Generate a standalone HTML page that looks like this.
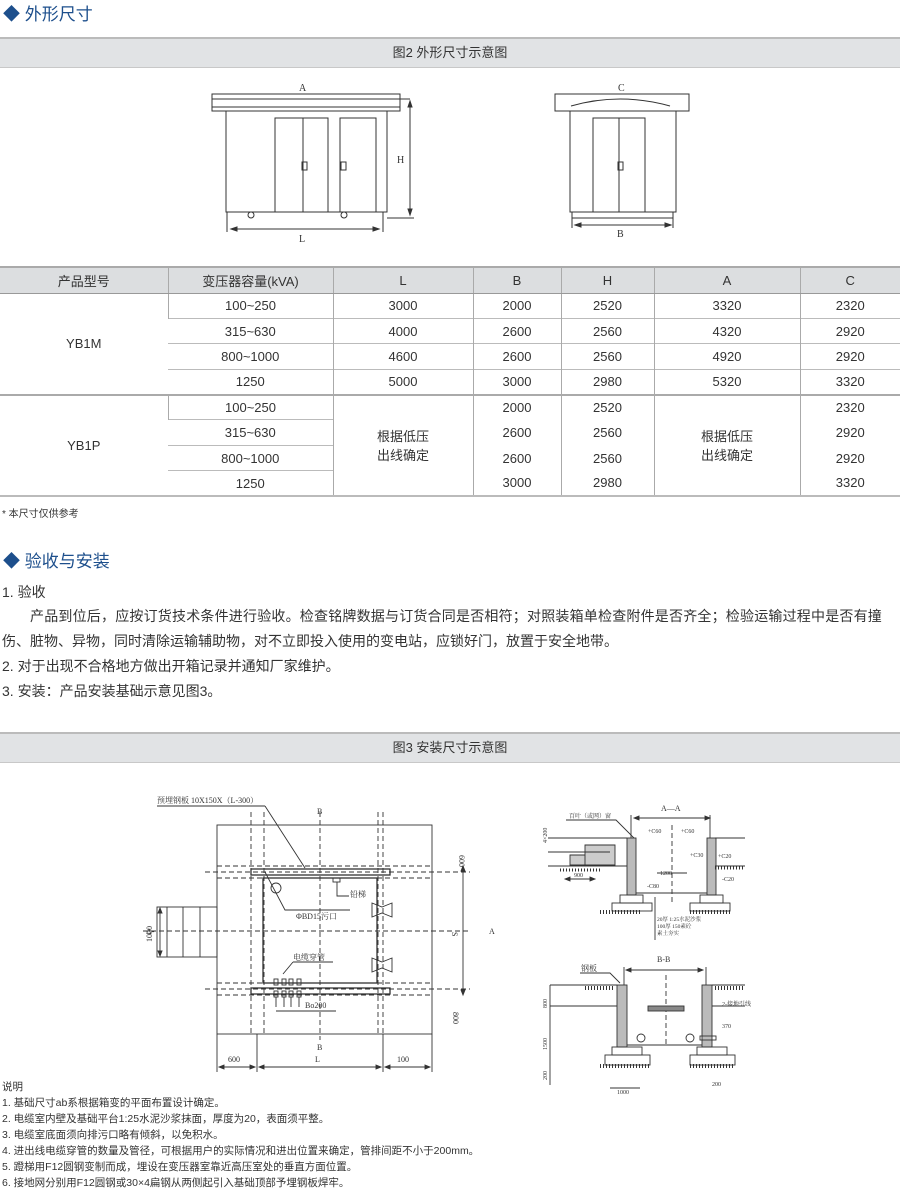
<!DOCTYPE html>
<html><head><meta charset="utf-8"><style>
*{margin:0;padding:0;box-sizing:border-box}
body{width:900px;height:1188px;background:#fff;position:relative;overflow:hidden;font-family:"Liberation Sans","Noto Sans CJK SC",sans-serif;color:#333}
.a{position:absolute;white-space:nowrap}
.h{color:#1d4f8c;font-size:17px}
.bar{position:absolute;left:0;width:900px;height:31px;background:#e1e3e5;border-top:2px solid #bbb;border-bottom:1px solid #c8c8c8;text-align:center;font-size:13px;line-height:28px;color:#333}
table{position:absolute;left:0;top:266px;width:900px;border-collapse:collapse;font-size:13px;color:#333}
td{text-align:center;height:25.4px;padding:0;border-left:1px solid #aaa;border-top:1px solid #bbb}
td:first-child{border-left:none}
tr.hd td{background:#dcdee0;height:26px;border-top:2px solid #aaa;border-bottom:1px solid #999}
.nb td{border-top:none}
.p{font-size:14px;color:#333}
.n{font-size:10.5px;color:#333}
</style></head><body>
<div class="a h" style="left:3px;top:0px">◆ 外形尺寸</div>
<div class="bar" style="top:37px">图2 外形尺寸示意图</div>

<svg class="a" style="left:0;top:70px" width="900" height="190" viewBox="0 70 900 190" fill="none" stroke="#333" stroke-width="1" font-family="Liberation Serif" font-size="10">
<rect x="212" y="94" width="188" height="17"/><line x1="212" y1="99" x2="410" y2="99"/><line x1="212" y1="107" x2="400" y2="107"/>
<rect x="226" y="111" width="161" height="101"/>
<rect x="275" y="118" width="53" height="94"/><line x1="303" y1="118" x2="303" y2="212"/>
<rect x="340" y="118" width="36" height="94"/>
<rect x="302" y="162" width="5" height="8"/><rect x="341" y="162" width="5" height="8"/>
<circle cx="251" cy="215" r="3"/><circle cx="344" cy="215" r="3"/>
<line x1="227" y1="212" x2="227" y2="232"/><line x1="383" y1="212" x2="383" y2="232"/><line x1="387" y1="218" x2="414" y2="218"/>
<line x1="231" y1="229" x2="379" y2="229"/><path d="M231 229l6-2v4zM379 229l-6-2v4z" fill="#333"/>
<line x1="410" y1="103" x2="410" y2="214"/><path d="M410 101l-2 6h4zM410 215l-2-6h4z" fill="#333"/>
<text x="299" y="91" fill="#333" stroke="none">A</text><text x="397" y="163" fill="#333" stroke="none">H</text><text x="299" y="242" fill="#333" stroke="none">L</text>
<rect x="555" y="94" width="134" height="17"/><path d="M571 106Q620 92 670 106"/>
<rect x="570" y="111" width="106" height="101"/>
<rect x="593" y="118" width="52" height="94"/><line x1="619" y1="118" x2="619" y2="212"/>
<rect x="618" y="162" width="5" height="8"/>
<line x1="572" y1="212" x2="572" y2="228"/><line x1="673" y1="212" x2="673" y2="228"/><line x1="572" y1="218" x2="673" y2="218"/>
<line x1="575" y1="225" x2="671" y2="225"/><path d="M575 225l6-2v4zM671 225l-6-2v4z" fill="#333"/>
<text x="618" y="91" fill="#333" stroke="none">C</text><text x="617" y="237" fill="#333" stroke="none">B</text>
</svg>

<table>
<colgroup><col style="width:168px"><col style="width:165px"><col style="width:140px"><col style="width:88px"><col style="width:93px"><col style="width:146px"><col style="width:100px"></colgroup>
<tr class="hd"><td>产品型号</td><td>变压器容量(kVA)</td><td>L</td><td>B</td><td>H</td><td>A</td><td>C</td></tr>
<tr><td rowspan="4">YB1M</td><td>100~250</td><td>3000</td><td>2000</td><td>2520</td><td>3320</td><td>2320</td></tr>
<tr><td>315~630</td><td>4000</td><td>2600</td><td>2560</td><td>4320</td><td>2920</td></tr>
<tr><td>800~1000</td><td>4600</td><td>2600</td><td>2560</td><td>4920</td><td>2920</td></tr>
<tr><td>1250</td><td>5000</td><td>3000</td><td>2980</td><td>5320</td><td>3320</td></tr>
<tr style="border-top:2px solid #aaa"><td rowspan="4">YB1P</td><td>100~250</td><td rowspan="4">根据低压<br>出线确定</td><td>2000</td><td>2520</td><td rowspan="4">根据低压<br>出线确定</td><td>2320</td></tr>
<tr class="nb"><td style="border-top:1px solid #bbb">315~630</td><td>2600</td><td>2560</td><td>2920</td></tr>
<tr class="nb"><td style="border-top:1px solid #bbb">800~1000</td><td>2600</td><td>2560</td><td>2920</td></tr>
<tr class="nb" style="border-bottom:2px solid #bbb"><td style="border-top:1px solid #bbb">1250</td><td>3000</td><td>2980</td><td>3320</td></tr>
</table>

<div class="a n" style="left:2px;top:505px;font-size:10px">* 本尺寸仅供参考</div>
<div class="a h" style="left:3px;top:547px">◆ 验收与安装</div>
<div class="a p" style="left:2px;top:582px">1. 验收</div>
<div class="a p" style="left:30px;top:606px;letter-spacing:0.2px">产品到位后，应按订货技术条件进行验收。检查铭牌数据与订货合同是否相符；对照装箱单检查附件是否齐全；检验运输过程中是否有撞</div>
<div class="a p" style="left:2px;top:631px">伤、脏物、异物，同时清除运输辅助物，对不立即投入使用的变电站，应锁好门，放置于安全地带。</div>
<div class="a p" style="left:2px;top:656px">2. 对于出现不合格地方做出开箱记录并通知厂家维护。</div>
<div class="a p" style="left:2px;top:681px">3. 安装：产品安装基础示意见图3。</div>

<div class="bar" style="top:732px">图3 安装尺寸示意图</div>

<svg class="a" style="left:0;top:780px" width="900" height="320" viewBox="0 780 900 320" fill="none" stroke="#333" stroke-width="0.9" font-family="Liberation Serif,Noto Serif CJK SC,serif" font-size="8">
<text x="157" y="803" fill="#333" stroke="none" font-size="8">预埋钢板 10X150X（L-300）</text>
<line x1="157" y1="806" x2="265" y2="806"/><line x1="265" y1="806" x2="305" y2="868"/>
<rect x="217" y="825" width="215" height="209"/>
<rect x="157" y="907" width="60" height="50"/><line x1="167" y1="907" x2="167" y2="957"/><line x1="183" y1="907" x2="183" y2="957"/><line x1="200" y1="907" x2="200" y2="957"/>
<g stroke-dasharray="5,3">
<line x1="251" y1="812" x2="251" y2="1034"/><line x1="264" y1="812" x2="264" y2="1034"/><line x1="320" y1="812" x2="320" y2="1040"/><line x1="378" y1="812" x2="378" y2="1034"/><line x1="383" y1="812" x2="383" y2="1034"/>
<line x1="217" y1="866" x2="432" y2="866"/><line x1="205" y1="872" x2="470" y2="872"/><line x1="217" y1="878" x2="432" y2="878"/>
<line x1="217" y1="983" x2="432" y2="983"/><line x1="205" y1="989" x2="470" y2="989"/><line x1="217" y1="995" x2="432" y2="995"/>
<line x1="143" y1="931" x2="470" y2="931"/>
</g>
<rect x="251" y="869" width="139" height="6" stroke-width="1.3"/><rect x="251" y="988" width="139" height="6" stroke-width="1.3"/>
<rect x="263" y="878" width="114" height="105" stroke-width="1.3"/>
<circle cx="276" cy="888" r="5"/><path d="M265 872L285 910L350 910"/>
<text x="296" y="919" fill="#333" stroke="none">ΦBD15污口</text>
<rect x="333" y="878" width="7" height="4"/><path d="M337 882v14h12"/><text x="350" y="897" fill="#333" stroke="none">铅梯</text>
<path d="M372 903l10 4 10-4v14l-10-4-10 4z"/><path d="M372 958l10 4 10-4v14l-10-4-10 4z"/>
<text x="293" y="960" fill="#333" stroke="none">电缆穿管</text><path d="M293 962h40M293 962l-10 12"/>
<g><rect x="274" y="979" width="4" height="6"/><rect x="282" y="979" width="4" height="6"/><rect x="289" y="979" width="4" height="6"/><rect x="297" y="979" width="4" height="6"/>
<rect x="274" y="991" width="4" height="6"/><rect x="282" y="991" width="4" height="6"/><rect x="289" y="991" width="4" height="6"/><rect x="297" y="991" width="4" height="6"/>
<path d="M276 997v10M284 997v10M291 997v10M299 997v10M276 1011h60"/></g>
<text x="305" y="1008" fill="#333" stroke="none">Bo200</text>
<line x1="463" y1="866" x2="463" y2="995"/><path d="M463 866l-2 5h4zM463 995l-2-5h4z" fill="#333"/>
<text x="459" y="855" fill="#333" stroke="none" transform="rotate(90 459 855)">600</text>
<text x="452" y="932" fill="#333" stroke="none" transform="rotate(90 452 932)">S</text>
<text x="453" y="1012" fill="#333" stroke="none" transform="rotate(90 453 1012)">800</text>
<line x1="160" y1="909" x2="160" y2="955"/><path d="M160 908l-2 5h4zM160 956l-2-5h4z" fill="#333"/>
<text x="152" y="942" fill="#333" stroke="none" transform="rotate(-90 152 942)">1000</text>
<text x="146" y="934" fill="#333" stroke="none">A-</text><text x="489" y="934" fill="#333" stroke="none">A</text>
<text x="317" y="814" fill="#333" stroke="none">B</text><text x="317" y="1050" fill="#333" stroke="none">B</text>
<line x1="217" y1="1034" x2="217" y2="1072"/><line x1="257" y1="1034" x2="257" y2="1072"/><line x1="383" y1="1034" x2="383" y2="1072"/><line x1="432" y1="1034" x2="432" y2="1072"/>
<line x1="219" y1="1067" x2="255" y2="1067"/><line x1="259" y1="1067" x2="381" y2="1067"/><line x1="385" y1="1067" x2="430" y2="1067"/>
<path d="M219 1067l5-2v4zM255 1067l-5-2v4zM259 1067l5-2v4zM381 1067l-5-2v4zM385 1067l5-2v4zM430 1067l-5-2v4z" fill="#333"/>
<text x="228" y="1062" fill="#333" stroke="none">600</text><text x="315" y="1062" fill="#333" stroke="none">L</text><text x="397" y="1062" fill="#333" stroke="none">100</text>

<text x="661" y="811" fill="#333" stroke="none">A—A</text>
<line x1="634" y1="818" x2="710" y2="818"/><path d="M634 818l5-2v4zM710 818l-5-2v4z" fill="#333"/>
<line x1="631" y1="815" x2="631" y2="838"/><line x1="710" y1="815" x2="710" y2="838"/>
<line x1="672" y1="825" x2="672" y2="905" stroke-dasharray="5,3"/>
<text x="569" y="818" fill="#333" stroke="none" font-size="6">百叶（或网）窗</text><path d="M566 820h50l20 20"/>
<text x="547" y="843" fill="#333" stroke="none" font-size="6" transform="rotate(-90 547 843)">4×200</text>
<line x1="548" y1="838" x2="627" y2="838"/>
<path d="M585 845h30v20h-30zM570 855h15v10h-15z" fill="#ccc"/>
<line x1="548" y1="852" x2="610" y2="852"/><line x1="548" y1="866" x2="627" y2="866"/>
<line x1="560" y1="870" x2="600" y2="870" stroke-dasharray="1,2" stroke-width="3"/>
<rect x="627" y="838" width="9" height="57" fill="#bbb"/><rect x="707" y="838" width="9" height="57" fill="#bbb"/>
<line x1="636" y1="893" x2="707" y2="893"/>
<line x1="715" y1="838" x2="745" y2="838"/><line x1="715" y1="866" x2="745" y2="866"/>
<line x1="715" y1="868" x2="745" y2="868" stroke-dasharray="1,2" stroke-width="3"/>
<rect x="620" y="895" width="23" height="8"/><rect x="700" y="895" width="23" height="8"/>
<rect x="612" y="903" width="40" height="8"/><rect x="690" y="903" width="40" height="8"/>
<line x1="600" y1="912" x2="640" y2="912" stroke-dasharray="1,2" stroke-width="4"/><line x1="690" y1="912" x2="730" y2="912" stroke-dasharray="1,2" stroke-width="4"/>
<line x1="565" y1="879" x2="595" y2="879"/><path d="M565 879l5-2v4zM595 879l-5-2v4z" fill="#333"/>
<text x="574" y="877" fill="#333" stroke="none" font-size="6">900</text>
<text x="648" y="833" fill="#333" stroke="none" font-size="6">+C60</text><text x="681" y="833" fill="#333" stroke="none" font-size="6">+C60</text>
<text x="690" y="857" fill="#333" stroke="none" font-size="6">+C30</text><text x="718" y="858" fill="#333" stroke="none" font-size="6">+C20</text>
<text x="722" y="881" fill="#333" stroke="none" font-size="6">-C20</text><text x="647" y="888" fill="#333" stroke="none" font-size="6">-C80</text>
<text x="660" y="875" fill="#333" stroke="none" font-size="6">1200</text><line x1="657" y1="873" x2="687" y2="873"/>
<text x="657" y="921" fill="#333" stroke="none" font-size="5.5">20厚 1:25水泥沙浆</text><text x="657" y="928" fill="#333" stroke="none" font-size="5.5">100厚 150素砼</text><text x="657" y="935" fill="#333" stroke="none" font-size="5.5">素土夯实</text>
<line x1="655" y1="897" x2="655" y2="940"/>
<text x="657" y="962" fill="#333" stroke="none">B-B</text>
<line x1="626" y1="970" x2="703" y2="970"/><path d="M626 970l5-2v4zM703 970l-5-2v4z" fill="#333"/>
<line x1="624" y1="967" x2="624" y2="985"/><line x1="706" y1="967" x2="706" y2="985"/>
<text x="581" y="971" fill="#333" stroke="none" font-size="8">钢板</text><path d="M580 973h30l10 10"/>
<line x1="666" y1="975" x2="666" y2="1045" stroke-dasharray="5,3"/>
<line x1="550" y1="985" x2="617" y2="985"/><line x1="712" y1="985" x2="745" y2="985"/>
<line x1="585" y1="988" x2="615" y2="988" stroke-dasharray="1,2" stroke-width="4"/><line x1="715" y1="988" x2="745" y2="988" stroke-dasharray="1,2" stroke-width="4"/>
<line x1="550" y1="1006" x2="617" y2="1006"/><line x1="712" y1="1006" x2="745" y2="1006"/>
<rect x="617" y="985" width="10" height="62" fill="#bbb"/><rect x="702" y="985" width="10" height="62" fill="#bbb"/>
<rect x="648" y="1006" width="36" height="5" fill="#888"/>
<line x1="627" y1="1045" x2="702" y2="1045"/>
<circle cx="641" cy="1038" r="4"/><circle cx="690" cy="1038" r="4"/>
<rect x="700" y="1036" width="16" height="4"/><text x="722" y="1028" fill="#333" stroke="none" font-size="6">370</text>
<text x="722" y="1006" fill="#333" stroke="none" font-size="6">2-接地引线</text>
<rect x="612" y="1047" width="30" height="8"/><rect x="697" y="1047" width="30" height="8"/>
<rect x="605" y="1055" width="45" height="10"/><rect x="690" y="1055" width="45" height="10"/>
<line x1="600" y1="1066" x2="650" y2="1066" stroke-dasharray="1,2" stroke-width="4"/><line x1="690" y1="1066" x2="735" y2="1066" stroke-dasharray="1,2" stroke-width="4"/>
<line x1="550" y1="985" x2="550" y2="1085"/>
<text x="547" y="1008" fill="#333" stroke="none" font-size="6" transform="rotate(-90 547 1008)">800</text>
<text x="547" y="1050" fill="#333" stroke="none" font-size="6" transform="rotate(-90 547 1050)">1500</text>
<text x="547" y="1080" fill="#333" stroke="none" font-size="6" transform="rotate(-90 547 1080)">200</text>
<line x1="610" y1="1088" x2="640" y2="1088"/><text x="617" y="1094" fill="#333" stroke="none" font-size="6">1000</text>
<text x="712" y="1086" fill="#333" stroke="none" font-size="6">200</text>
</svg>

<div class="a n" style="left:2px;top:1079px">说明</div>
<div class="a n" style="left:2px;top:1095px">1. 基础尺寸ab系根据箱变的平面布置设计确定。</div>
<div class="a n" style="left:2px;top:1111px">2. 电缆室内壁及基础平台1:25水泥沙浆抹面，厚度为20，表面须平整。</div>
<div class="a n" style="left:2px;top:1127px">3. 电缆室底面须向排污口略有倾斜，以免积水。</div>
<div class="a n" style="left:2px;top:1143px">4. 进出线电缆穿管的数量及管径，可根据用户的实际情况和进出位置来确定，管排间距不小于200mm。</div>
<div class="a n" style="left:2px;top:1159px">5. 蹬梯用F12圆钢变制而成，埋设在变压器室靠近高压室处的垂直方面位置。</div>
<div class="a n" style="left:2px;top:1175px">6. 接地网分别用F12圆钢或30×4扁钢从两侧起引入基础顶部予埋钢板焊牢。</div>
</body></html>
